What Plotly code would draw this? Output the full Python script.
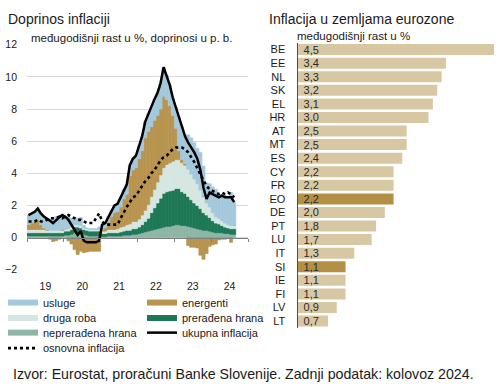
import pandas as pd
import plotly.graph_objects as go

# ---------------- data: left chart (monthly, Jan 2019 - Aug 2024) ----------------
months = pd.period_range("2019-01", "2024-08", freq="M")

usluge = [0.6, 0.6, 0.6, 0.7, 0.7, 0.7, 0.7, 0.7, 0.7, 0.85, 0.9, 0.9,
          0.75, 0.75, 0.55, 0.45, 0.4, 0.5, 0.15, 0.05, 0.05, 0.05, 0.05, 0.15,
          0.3, 0.3, 0.35, 0.4, 0.45, 0.5, 0.6, 0.6, 0.6, 0.65, 0.7, 0.75,
          0.8, 0.9, 1.0, 1.1, 1.2, 1.3, 1.4, 1.6, 1.8, 1.5, 1.3, 1.1,
          1.3, 2.1, 2.05, 1.7, 2.15, 2.25, 2.25, 2.2, 2.35, 1.95, 1.25, 1.45,
          1.6, 1.7, 1.45, 1.65, 1.7, 1.75, 2.05, 1.45]

energenti = [0.3, 0.4, 0.5, 0.6, 0.3, 0.1, 0.05, -0.1, -0.25, -0.2, -0.1, 0.05,
             0.0, -0.2, -0.4, -0.75, -1.05, -0.85, -0.95, -0.9, -0.85, -0.85, -0.85, -0.85,
             0.1, 0.2, 0.45, 0.8, 1.05, 1.05, 1.25, 1.7, 1.9, 3.0, 3.2, 3.35,
             3.75, 4.0, 4.5, 4.55, 4.35, 4.3, 4.15, 4.1, 4.45, 4.05, 3.55, 2.85,
             1.95, 0.55, 0.2, 0.1, -0.5, -0.6, -0.6, -0.65, -1.1, -1.35, -1.0, -0.55,
             -0.45, -0.4, -0.15, -0.1, -0.1, -0.05, -0.3, 0.0]

druga_roba = [0.2, 0.2, 0.2, 0.2, 0.2, 0.2, 0.15, 0.15, 0.15, 0.15, 0.15, 0.15,
              0.15, 0.15, 0.15, 0.15, 0.15, 0.15, 0.1, 0.1, 0.1, 0.1, 0.1, 0.1,
              0.15, 0.15, 0.2, 0.2, 0.2, 0.25, 0.3, 0.3, 0.35, 0.4, 0.45, 0.45,
              0.5, 0.6, 0.7, 0.85, 1.0, 1.15, 1.3, 1.45, 1.6, 1.7, 1.75, 1.8,
              1.8, 1.8, 1.8, 1.75, 1.7, 1.6, 1.5, 1.35, 1.15, 0.95, 0.75, 0.65,
              0.5, 0.4, 0.35, 0.3, 0.25, 0.2, 0.2, 0.2]

preradena_hrana = [0.2, 0.2, 0.2, 0.2, 0.2, 0.2, 0.2, 0.2, 0.2, 0.2, 0.2, 0.2,
                   0.25, 0.25, 0.3, 0.35, 0.35, 0.35, 0.3, 0.3, 0.3, 0.3, 0.3, 0.3,
                   0.2, 0.2, 0.2, 0.2, 0.2, 0.2, 0.25, 0.25, 0.3, 0.3, 0.35, 0.35,
                   0.4, 0.5, 0.65, 0.8, 1.1, 1.35, 1.6, 1.85, 2.1, 2.15, 2.2, 2.2,
                   2.25, 2.25, 2.1, 2.0, 1.85, 1.7, 1.55, 1.45, 1.3, 1.1, 0.95, 0.85,
                   0.7, 0.6, 0.55, 0.45, 0.4, 0.35, 0.35, 0.35]

nepreradena_hrana = [0.1, 0.1, 0.1, 0.1, 0.1, 0.1, 0.1, 0.1, 0.1, 0.1, 0.1, 0.1,
                     0.15, 0.15, 0.2, 0.3, 0.3, 0.25, 0.2, 0.15, 0.1, 0.1, 0.1, 0.1,
                     0.05, 0.05, 0.1, 0.1, 0.1, 0.1, 0.1, 0.15, 0.15, 0.15, 0.2, 0.2,
                     0.25, 0.3, 0.35, 0.4, 0.45, 0.5, 0.55, 0.6, 0.65, 0.7, 0.7, 0.75,
                     0.8, 0.8, 0.75, 0.75, 0.7, 0.65, 0.6, 0.55, 0.5, 0.45, 0.45, 0.4,
                     0.35, 0.3, 0.3, 0.3, 0.25, 0.25, 0.2, 0.2]

ukupna_inflacija = [1.4, 1.5, 1.6, 1.8, 1.5, 1.3, 1.2, 1.05, 0.9, 1.1, 1.25, 1.4,
                    1.3, 1.1, 0.8, 0.5, 0.15, 0.4, -0.2, -0.3, -0.3, -0.3, -0.3, -0.2,
                    0.8, 0.9, 1.3, 1.7, 2.0, 2.1, 2.5, 3.0, 3.3, 4.5, 4.9, 5.1,
                    5.7, 6.3, 7.2, 7.7, 8.1, 8.6, 9.0, 9.6, 10.6, 10.1, 9.5, 8.7,
                    8.1, 7.5, 6.9, 6.3, 5.9, 5.6, 5.3, 4.9, 4.2, 3.1, 2.4, 2.8,
                    2.7, 2.6, 2.5, 2.6, 2.5, 2.5, 2.5, 2.2]

osnovna_inflacija = [1.0, 1.0, 1.0, 1.1, 1.0, 1.0, 1.1, 1.2, 1.2, 1.2, 1.3, 1.2,
                     1.3, 1.4, 1.3, 1.2, 1.1, 1.1, 1.0, 0.9, 0.9, 0.9, 1.2, 1.5,
                     1.0, 0.8, 0.8, 0.8, 0.8, 0.8, 1.2, 1.6, 1.9, 2.2, 2.5, 2.6,
                     2.9, 3.2, 3.5, 3.7, 4.0, 4.2, 4.5, 4.8, 5.0, 5.1, 5.3, 5.5,
                     5.6, 5.6, 5.6, 5.5, 5.3, 5.0, 4.7, 4.3, 3.9, 3.6, 3.2, 3.0,
                     2.9, 2.8, 2.7, 2.8, 2.7, 2.8, 2.7, 2.5]

years = [2019, 2020, 2021, 2022, 2023, 2024]
year_labels = ["19", "20", "21", "22", "23", "24"]
y_ticks_left = [-2, 0, 2, 4, 6, 8, 10, 12]

# ---------------- data: right chart ----------------
countries = ["BE", "EE", "NL", "SK", "EL", "HR", "AT", "MT", "ES", "CY", "FR",
             "EO", "DE", "PT", "LU", "IT", "SI", "IE", "FI", "LV", "LT"]
country_values = [4.5, 3.4, 3.3, 3.2, 3.1, 3.0, 2.5, 2.5, 2.4, 2.2, 2.2,
                  2.2, 2.0, 1.8, 1.7, 1.3, 1.1, 1.1, 1.1, 0.9, 0.7]
highlighted = ["EO", "SI"]

# ---------------- styling ----------------
W, H = 503, 391
FONT = "Liberation Sans, Arial, sans-serif"
NARROW = "Liberation Sans Narrow, Arial Narrow, Liberation Sans, Arial, sans-serif"

C_USL = "#A4C8DC"
C_DRUGA = "#D6E6E1"
C_NEPR = "#8DB6A6"
C_ENER = "#B8944F"
C_PRER = "#1E7856"
C_BAR = "#D8C7A3"
C_BAR_HI = "#B39046"


def px_x(p):
    return p / W


def px_y(p):
    return 1 - p / H


x_month = [p.year + (p.month - 0.5) / 12 for p in months]
bar_w = [1 / 12] * len(x_month)

ydom = [px_y(272), px_y(40)]
yr = [-2, 12]
zero_pos = ydom[0] + (ydom[1] - ydom[0]) * (0 - yr[0]) / (yr[1] - yr[0])

fig = go.Figure()

# legend entries: each row placed as its own one-item legend
LEG_OFF = 12  # px from legend top to item centre
legend_defs = {
    "legend": (3, 303), "legend2": (3, 319), "legend3": (3, 334), "legend4": (3, 350),
    "legend5": (142, 303), "legend6": (142, 319), "legend7": (142, 334),
}

legend_items = [
    ("usluge", C_USL, "legend"),
    ("druga roba", C_DRUGA, "legend2"),
    ("neprerađena hrana", C_NEPR, "legend3"),
    ("energenti", C_ENER, "legend5"),
    ("prerađena hrana", C_PRER, "legend6"),
]
for name, col, lg in legend_items:
    fig.add_trace(go.Scatter(x=[None], y=[None], mode="lines", name=name,
                             line=dict(color=col, width=6), legend=lg,
                             hoverinfo="skip"))

stack = [
    ("neprerađena hrana", nepreradena_hrana, C_NEPR),
    ("prerađena hrana", preradena_hrana, C_PRER),
    ("druga roba", druga_roba, C_DRUGA),
    ("energenti", energenti, C_ENER),
    ("usluge", usluge, C_USL),
]
for name, vals, col in stack:
    fig.add_trace(go.Bar(x=x_month, y=vals, width=bar_w, name=name,
                         marker=dict(color=col, line=dict(width=0.7, color=col)),
                         showlegend=False, xaxis="x", yaxis="y"))

fig.add_trace(go.Scatter(x=x_month, y=ukupna_inflacija, mode="lines",
                         name="ukupna inflacija",
                         line=dict(color="#000000", width=2.5),
                         legend="legend7", xaxis="x", yaxis="y"))
fig.add_trace(go.Scatter(x=x_month, y=osnovna_inflacija, mode="lines",
                         name="osnovna inflacija",
                         line=dict(color="#000000", width=2.6, dash="dot"),
                         legend="legend4", xaxis="x2", yaxis="y"))

# right chart
bar_colors = [C_BAR_HI if c in highlighted else C_BAR for c in countries]
fig.add_trace(go.Bar(x=country_values, y=countries, orientation="h",
                     marker=dict(color=bar_colors, line=dict(width=0)),
                     texttemplate="\u00a0%{x:.1f}", textposition="inside",
                     insidetextanchor="start", constraintext="none",
                     textfont=dict(family=NARROW, size=11, color="#2b2b2b"),
                     showlegend=False, xaxis="x3", yaxis="y3"))

legend_layout = {}
for key, (lx, cy) in legend_defs.items():
    legend_layout[key] = dict(x=px_x(lx), xanchor="left", y=px_y(cy - LEG_OFF),
                              yanchor="top", bgcolor="rgba(0,0,0,0)",
                              font=dict(size=11, color="#1a1a1a"),
                              itemwidth=30, tracegroupgap=0)

fig.update_layout(
    width=W, height=H,
    margin=dict(l=0, r=0, t=0, b=0),
    paper_bgcolor="white", plot_bgcolor="white",
    separators=",.",
    barmode="relative", bargap=0.19,
    font=dict(family=FONT, size=11, color="#1a1a1a"),
    xaxis=dict(domain=[px_x(27), px_x(248)], range=[2019, 2025],
               tickvals=[y + 0.5 for y in years], ticktext=year_labels,
               ticks="", showgrid=False, zeroline=False, showline=False,
               ticklabelstandoff=9,
               tickfont=dict(family=NARROW, size=10.5, color="#1a1a1a"),
               anchor="y", fixedrange=True),
    xaxis2=dict(overlaying="x", matches="x", anchor="free", position=zero_pos,
                tickvals=years + [2025], showticklabels=False,
                ticks="outside", ticklen=3, tickcolor="#7f7f7f", tickwidth=1,
                showline=True, linecolor="#7f7f7f", linewidth=1,
                showgrid=False, zeroline=False),
    yaxis=dict(domain=ydom, range=yr, tickvals=y_ticks_left,
               showgrid=True, gridcolor="#D9D9D9", gridwidth=1,
               zeroline=False, showline=False, ticks="",
               ticklabelstandoff=9,
               tickfont=dict(family=NARROW, size=10.5, color="#1a1a1a"),
               anchor="x"),
    xaxis3=dict(domain=[px_x(297.5), px_x(494)], range=[0, 4.5],
                visible=False, anchor="y3"),
    yaxis3=dict(domain=[px_y(332), px_y(38)], autorange="reversed",
                showline=True, linecolor="#4d4d4d", linewidth=1,
                ticks="", showgrid=False, zeroline=False,
                ticklabelstandoff=9,
                tickfont=dict(family=NARROW, size=11, color="#1a1a1a"),
                anchor="x3"),
    annotations=[
        dict(text="Doprinos inflaciji", x=px_x(6), y=px_y(13), xref="paper",
             yref="paper", xanchor="left", yanchor="middle", showarrow=False,
             font=dict(size=14, color="#1a1a1a")),
        dict(text="međugodišnji rast u %, doprinosi u p. b.", x=px_x(29),
             y=px_y(33), xref="paper", yref="paper", xanchor="left",
             yanchor="middle", showarrow=False,
             font=dict(size=11.5, color="#1a1a1a")),
        dict(text="Inflacija u zemljama eurozone", x=px_x(267), y=px_y(13),
             xref="paper", yref="paper", xanchor="left", yanchor="middle",
             showarrow=False, font=dict(size=14, color="#1a1a1a")),
        dict(text="međugodišnji rast u %", x=px_x(295), y=px_y(31),
             xref="paper", yref="paper", xanchor="left", yanchor="middle",
             showarrow=False, font=dict(size=11.5, color="#1a1a1a")),
        dict(text="Izvor: Eurostat, proračuni Banke Slovenije. Zadnji podatak: kolovoz 2024.",
             x=px_x(11), y=px_y(380), xref="paper", yref="paper",
             xanchor="left", yanchor="middle", showarrow=False,
             font=dict(size=14.2, color="#1a1a1a")),
    ],
    **legend_layout,
)

fig.write_html(
    "out.html",
    config={"displayModeBar": False},
    post_script="document.body.style.margin='0';document.body.style.padding='0';"
                "document.body.style.overflow='hidden';",
)
